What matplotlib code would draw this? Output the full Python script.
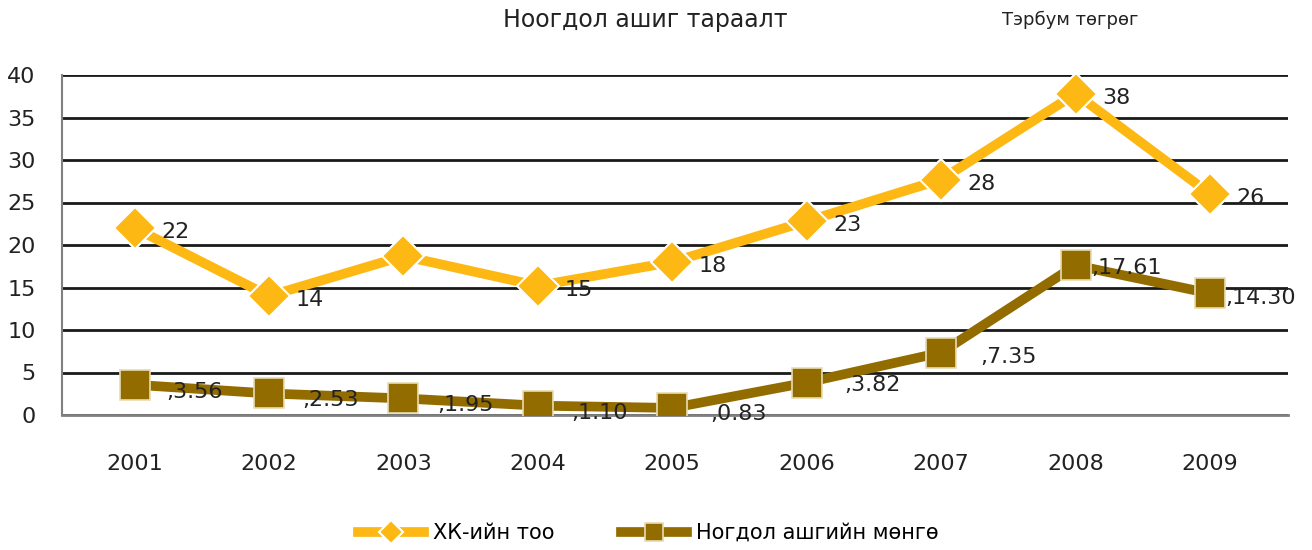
import numpy as np
import matplotlib
matplotlib.use("Agg")
import matplotlib.pyplot as plt

years = ["2001", "2002", "2003", "2004", "2005", "2006", "2007", "2008", "2009"]
companies = [22, 14, 18.7, 15.2, 18, 22.8, 27.7, 37.8, 26]
company_labels = ["22", "14", "", "15", "18", "23", "28", "38", "26"]
dividends = [3.56, 2.53, 1.95, 1.10, 0.83, 3.82, 7.35, 17.61, 14.30]

yellow = "#FDB813"
brown = "#936C00"
text_col = "#222222"

plt.rcParams["font.family"] = ["DejaVu Sans"]

fig = plt.figure(figsize=(13.12, 5.5), dpi=100)
ax = fig.add_axes([62 / 1312, 1 - 415 / 550, (1288 - 62) / 1312, 340 / 550])

x = np.arange(len(years))
ax.plot(x, companies, color=yellow, lw=7, marker="D", ms=21,
        mfc=yellow, mec="white", mew=1.5, label="ХК-ийн тоо", zorder=4)
ax.plot(x, dividends, color=brown, lw=7, marker="s", ms=21,
        mfc=brown, mec="#e8dcb0", mew=1.2, label="Ногдол ашгийн мөнгө", zorder=4)

for xi, v, lab in zip(x, companies, company_labels):
    if lab:
        ax.annotate(lab, (xi, v), xytext=(19, -3), textcoords="offset points",
                    ha="left", va="center", fontsize=16, color=text_col, zorder=5)

# small shifts so the brown labels sit like in the original
div_dx = [23, 24, 24, 24, 27, 27, 28, 11, 11]
div_dy = [-5, -5, -5, -5, -4, -2, -3, -2, -3]
for xi, v, dx, dy in zip(x, dividends, div_dx, div_dy):
    ax.annotate(",%.2f" % v, (xi, v), xytext=(dx, dy), textcoords="offset points",
                ha="left", va="center", fontsize=16, color=text_col, zorder=5)

ax.set_xlim(-0.54, 8.58)
ax.set_ylim(0, 40)
ax.set_yticks(range(0, 41, 5))
ax.set_xticks(x)
ax.set_xticklabels(years)
ax.yaxis.grid(True, color="#1a1a1a", lw=2)
ax.set_axisbelow(True)
ax.tick_params(length=0, labelsize=16, colors=text_col)
ax.tick_params(axis="x", pad=28)
ax.tick_params(axis="y", pad=19)
for s in ["top", "right"]:
    ax.spines[s].set_visible(False)
ax.spines["left"].set_color("#808080")
ax.spines["left"].set_linewidth(1.5)
ax.spines["bottom"].set_color("#808080")
ax.spines["bottom"].set_linewidth(2)

fig.text(645 / 1312, 1 - 20 / 550, "Ноогдол ашиг тараалт", ha="center", va="center",
         fontsize=17, color=text_col)
fig.text(1070 / 1312, 1 - 20 / 550, "Тэрбум төгрөг", ha="center", va="center",
         fontsize=13, color=text_col)

fig.legend(loc="center", bbox_to_anchor=(648 / 1312, 1 - 533 / 550), ncol=2,
           frameon=False, fontsize=15, markerscale=0.6, handlelength=3.2,
           handletextpad=0.4, columnspacing=3.2)

fig.savefig("out.png", dpi=100)
